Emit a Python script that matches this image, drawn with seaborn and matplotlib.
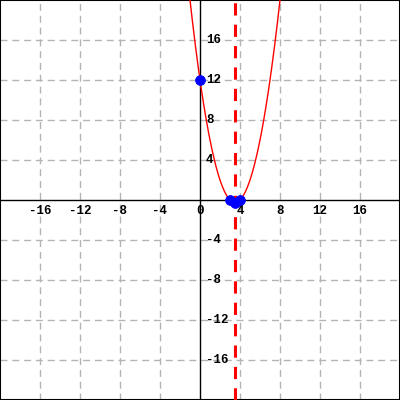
import matplotlib
matplotlib.use("Agg")
import matplotlib.pyplot as plt
import seaborn as sns
import numpy as np
import pandas as pd

# Data
coef_a, coef_b, coef_c = 1.0, -7.0, 12.0
axis_of_symmetry = 3.5
point_x = [0, 3, 3.5, 4]
point_y = [12, 0, -0.25, 0]
tick_vals = [-16, -12, -8, -4, 0, 4, 8, 12, 16]

sns.set_style("white")
plt.rcParams['font.family'] = ['Liberation Mono', 'DejaVu Sans']

fig = plt.figure(figsize=(4, 4), dpi=100)
ax = fig.add_axes([0, 0, 1, 1])
ax.set_xlim(-20, 20)
ax.set_ylim(-20, 20)

# grid
for v in tick_vals:
    if v != 0:
        ax.axvline(v, color='#b4b4b4', lw=1, ls=(0, (5, 3.5)), zorder=0)
        ax.axhline(v, color='#b4b4b4', lw=1, ls=(0, (5, 3.5)), zorder=0)
ax.axvline(0, color='black', lw=1, zorder=1)
ax.axhline(0, color='black', lw=1, zorder=1)

xs = np.linspace(-20, 20, 801)
ys = coef_a * xs**2 + coef_b * xs + coef_c
df = pd.DataFrame({'x': xs, 'y': ys})
sns.lineplot(data=df, x='x', y='y', color='red', lw=1, ax=ax, zorder=3)
ax.axvline(axis_of_symmetry, color='red', lw=2.2, ls=(0, (4, 3)), zorder=4)

pts = pd.DataFrame({'x': point_x, 'y': point_y})
sns.scatterplot(data=pts, x='x', y='y', color='blue', s=50, edgecolor='blue', ax=ax, zorder=5)

ax.set_xlim(-20, 20)
ax.set_ylim(-20, 20)
ax.set_xticks([])
ax.set_yticks([])
ax.set_xlabel('')
ax.set_ylabel('')

for v in tick_vals:
    ax.text(v, -0.5, str(v), ha='center', va='top', fontsize=9, fontweight='bold', color='black')
    if v != 0:
        ax.text(0.6, v, str(v), ha='left', va='center', fontsize=9, fontweight='bold', color='black')

for s in ax.spines.values():
    s.set_visible(True)
    s.set_color('black')
    s.set_linewidth(1.5)

fig.savefig('out.png', dpi=100)
